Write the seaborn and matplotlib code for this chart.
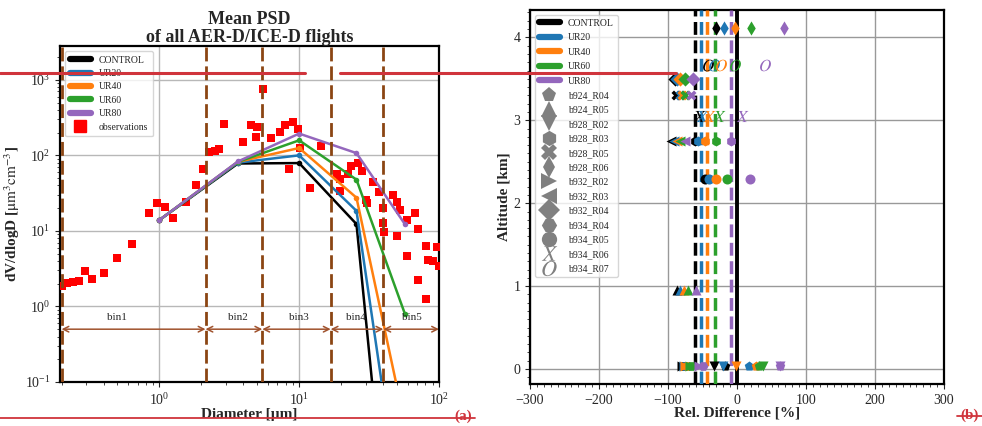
import numpy as np
import pandas as pd
import matplotlib
matplotlib.use("Agg")
import matplotlib.pyplot as plt
import seaborn as sns
from matplotlib.lines import Line2D
from matplotlib.ticker import AutoMinorLocator, FixedLocator

sns.set_style("ticks")
plt.rcParams["font.family"] = ["Liberation Serif", "DejaVu Serif"]
plt.rcParams["mathtext.fontset"] = "stix"

# ---------------- data: left panel ----------------
scenarios = ["CONTROL", "UR20", "UR40", "UR60", "UR80"]
colors = ["black", "#1f77b4", "#ff7f0e", "#2ca02c", "#9467bd"]

model_diam = [1.0, 3.65, 10.0, 25.7, 57.0]
psd_control = [13.9, 78, 79, 12.3, 4e-6]
psd_ur20 = [13.9, 80, 100, 18.4, 8e-4]
psd_ur40 = [13.9, 82, 125, 27.5, 0.028]
psd_ur60 = [13.9, 82, 158, 47.7, 0.8]
psd_ur80 = [13.9, 83, 194, 107, 12.3]

obs_diam = [0.2, 0.22, 0.243, 0.268, 0.293, 0.33, 0.4, 0.495, 0.64, 0.848,
            0.97, 1.1, 1.26, 1.55, 1.83, 2.04, 2.28, 2.52, 2.69, 2.88,
            3.95, 4.54, 4.93, 4.98, 5.56, 6.31, 7.25, 7.93, 8.53, 9.0,
            9.8, 10.1, 11.9, 14.4, 18.8, 19.7, 19.7, 22.4, 23.6, 26.3,
            28.2, 30.1, 30.6, 33.8, 37.1, 39.6, 39.6, 40.3, 46.8, 50.0,
            52.5, 50.0, 59.3, 59.3, 67.3, 70.6, 70.6, 80.6, 82.8, 90.6,
            96.0, 100.0, 80.6]
obs_dvdlogd = [1.87, 2.03, 2.12, 2.18, 2.96, 2.3, 2.8, 4.36, 6.7, 17.5,
               23.4, 20.8, 14.7, 23.8, 40.9, 65, 110, 115, 121, 260,
               148, 254, 173, 234, 755, 168, 205, 252, 65.8, 279,
               223, 125, 36.6, 132, 56.4, 48.5, 34, 56.4, 73, 79,
               62.5, 25.8, 23.4, 44, 32.3, 20, 12.6, 9.6, 30, 24.3,
               19, 8.6, 14, 4.7, 17, 10.6, 2.25, 6.3, 4.15, 3.95,
               6.2, 3.45, 1.25]

bin_edges = [0.2, 2.14, 5.45, 16.8, 40.0, 100.0]
bin_labels = ["bin1", "bin2", "bin3", "bin4", "bin5"]
bin_label_x = [0.5, 3.65, 10.0, 25.3, 64.0]

# ---------------- data: right panel ----------------
mean_rel_diff = [-61, -52, -44, -32.5, -9]
run_names = ["b924_R04", "b924_R05", "b928_R02", "b928_R03", "b928_R05",
             "b928_R06", "b932_R02", "b932_R03", "b932_R04", "b934_R04",
             "b934_R05", "b934_R06", "b934_R07"]
run_markers = ["p", "^", "v", "h", "X", "d", ">", "<", "D", "H", "o",
               "$X$", "$O$"]
run_altitude = [0.04, 0.95, 0.04, 2.75, 3.3, 4.11, 0.04, 2.75, 3.5, 0.04,
                2.29, 3.05, 3.67]
rd_control = [-17, -87, -33, -61, -88, -30, -79, -95, -90, -78, -46, -54.5, -41.5]
rd_ur20 = [16.7, -82, -21, -56, -83, -19, -77, -91, -87, -76, -40, -51, -33.5]
rd_ur40 = [28, -77, -2, -46, -79, -2.5, -76, -87, -83, -72, -30, -40.5, -22.5]
rd_ur60 = [32, -70.5, 37, -31, -75, 20.5, -68, -83, -76, -66, -15, -25.5, -2.5]
rd_ur80 = [63, -60, 62, -9, -66, 68.6, -55, -76, -64, -50, 19, 7, 41]

# ---------------- figure ----------------
fig = plt.figure(figsize=(9.82, 4.26), dpi=100)
ax1 = fig.add_axes([60 / 982, 1 - 382 / 426, 379 / 982, 336 / 426])
ax2 = fig.add_axes([530 / 982, 1 - 384 / 426, 414 / 982, 374 / 426])

brown = "#8B4513"

# ---- left panel ----
ax1.set_xscale("log")
ax1.set_yscale("log")
ax1.set_xlim(0.195, 100)
ax1.set_ylim(0.1, 2800)
ax1.grid(True, which="major", color="#b8b8b8", lw=1)

psd_all = [psd_control, psd_ur20, psd_ur40, psd_ur60, psd_ur80]
df_psd = pd.DataFrame({
    "diameter": np.tile(model_diam, len(scenarios)),
    "dvdlogd": np.concatenate(psd_all),
    "scenario": np.repeat(scenarios, len(model_diam)),
})
df_obs = pd.DataFrame({"diameter": obs_diam, "dvdlogd": obs_dvdlogd})

sns.scatterplot(data=df_obs, x="diameter", y="dvdlogd", marker="s", color="red",
                s=28, linewidth=0, ax=ax1, zorder=3, legend=False)
sns.lineplot(data=df_psd, x="diameter", y="dvdlogd", hue="scenario",
             palette=dict(zip(scenarios, colors)), hue_order=scenarios,
             marker="o", markersize=4, markeredgewidth=0, lw=1.8,
             sort=False, legend=False, ax=ax1, zorder=4)

for xe in bin_edges[:-1]:
    ax1.axvline(xe, color=brown, lw=2, dashes=(5, 1.8), zorder=5)
for i in range(len(bin_labels)):
    ax1.annotate("", xy=(bin_edges[i], 0.5), xytext=(bin_edges[i + 1], 0.5),
                 arrowprops=dict(arrowstyle="<->", color="#a0522d", lw=1.1,
                                 shrinkA=0, shrinkB=0), zorder=5)
    ax1.text(bin_label_x[i], 0.72, bin_labels[i], ha="center", va="center",
             fontsize=8, zorder=6)

ax1.set_title("Mean PSD\nof all AER-D/ICE-D flights", fontsize=13,
              fontweight="bold", pad=3, linespacing=1.05)
ax1.set_xlabel("Diameter [µm]", fontsize=11, fontweight="bold", labelpad=0)
ax1.set_ylabel(r"dV/dlogD [$\mathrm{\mu m^3 cm^{-3}}$]", fontsize=11,
               fontweight="bold", labelpad=2)
ax1.tick_params(labelsize=10)
for sp in ax1.spines.values():
    sp.set_linewidth(1.6)
    sp.set_color("black")

leg1_handles = [Line2D([0], [0], color=c, lw=4.5) for c in colors]
leg1_handles.append(Line2D([0], [0], color="red", marker="s", ls="none",
                           markersize=8))
ax1.legend(leg1_handles, scenarios + ["observations"], loc="upper left",
           fontsize=7, handlelength=2.2, labelspacing=0.45, borderpad=0.5,
           framealpha=0.8)

# ---- right panel ----
ax2.set_xlim(-300, 300)
ax2.set_ylim(-0.18, 4.33)
ax2.grid(True, which="major", color="#999999", lw=1)
ax2.xaxis.set_major_locator(FixedLocator([-300, -200, -100, 0, 100, 200, 300]))
ax2.yaxis.set_major_locator(FixedLocator([0, 1, 2, 3, 4]))
ax2.xaxis.set_minor_locator(AutoMinorLocator(10))
ax2.yaxis.set_minor_locator(AutoMinorLocator(10))

ax2.axvline(0, color="black", lw=2.8, zorder=3)
for m, c in zip(mean_rel_diff, colors):
    ax2.axvline(m, color=c, lw=2.5, ls="--", zorder=3)

rd_all = [rd_control, rd_ur20, rd_ur40, rd_ur60, rd_ur80]
for j, (vals, c) in enumerate(zip(rd_all, colors)):
    for i, mk in enumerate(run_markers):
        size = 70 if mk.startswith("$") else 52
        sns.scatterplot(x=[vals[i]], y=[run_altitude[i]], marker=mk, color=c,
                        s=size, linewidth=0, ax=ax2, zorder=4 + j,
                        legend=False)

ax2.set_xlabel("Rel. Difference [%]", fontsize=11, fontweight="bold", labelpad=0)
ax2.set_ylabel("Altitude [km]", fontsize=11, fontweight="bold", labelpad=2)
ax2.tick_params(labelsize=10)
for sp in ax2.spines.values():
    sp.set_linewidth(1.6)
    sp.set_color("black")

leg2_handles = [Line2D([0], [0], color=c, lw=4.5) for c in colors]
for mk in run_markers:
    leg2_handles.append(Line2D([0], [0], color="grey", marker=mk, ls="none",
                               markersize=11, markeredgewidth=0))
ax2.legend(leg2_handles, scenarios + run_names, loc="upper left", fontsize=7,
           handlelength=2.2, labelspacing=0.56, borderpad=0.4,
           framealpha=0.8)

# ---- red editing marks ----
red = "#d0343c"
for (x0, x1, y) in [(0, 305, 73), (340, 676, 73), (0, 475, 417.5), (957, 982, 416)]:
    fig.add_artist(Line2D([x0 / 982, x1 / 982], [1 - y / 426, 1 - y / 426],
                          color=red, lw=2.2 if y == 73 else 1.3,
                          transform=fig.transFigure, zorder=20))
fig.text(463 / 982, 1 - 416 / 426, "(a)", color=red, fontsize=11,
         fontweight="bold", ha="center", va="center", zorder=19)
fig.text(970 / 982, 1 - 415 / 426, "(b)", color=red, fontsize=11,
         fontweight="bold", ha="center", va="center", zorder=19)

fig.savefig("out.png", dpi=100)
